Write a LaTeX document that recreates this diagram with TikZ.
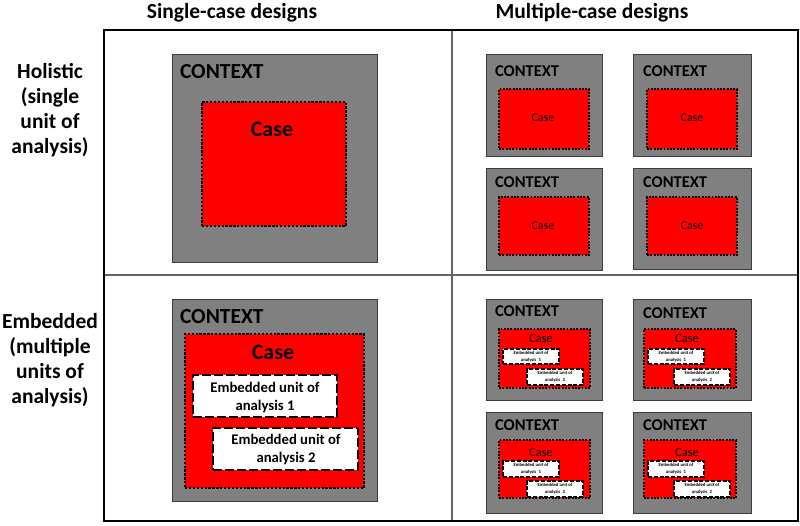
\documentclass[tikz,border=0pt]{standalone}
\usepackage{fontspec}
\setmainfont{Carlito}
\usetikzlibrary{fit}
\definecolor{ctxgray}{RGB}{128,128,128}
\definecolor{ctxedge}{RGB}{60,60,60}
\definecolor{divgray}{RGB}{100,100,100}
\tikzset{
  frame/.style={draw=black, line width=2pt},
  divider/.style={draw=divgray, line width=1.2pt},
  ctx/.style={draw=ctxedge, line width=1pt, fill=ctxgray, inner sep=0pt},
  caseL/.style={draw=black, line width=2.8pt, dash pattern=on 2.3pt off 1.6pt, fill=red, inner sep=0pt},
  caseS/.style={draw=black, line width=2.2pt, dash pattern=on 1.9pt off 1.4pt, fill=red, inner sep=0pt},
  embL/.style={draw=black, line width=2.8pt, dash pattern=on 9pt off 3pt, fill=white, inner sep=0pt},
  embS/.style={draw=black, line width=2.2pt, dash pattern=on 4pt off 1.8pt, fill=white, inner sep=0pt},
  txt/.style={inner sep=0pt, outer sep=0pt},
  header/.style={txt, font=\fontsize{21.5}{24}\selectfont\bfseries},
  rowlab/.style={txt, align=center, font=\fontsize{21.5}{25}\selectfont\bfseries},
  ctxtL/.style={txt, anchor=west, font=\fontsize{21.5}{24}\selectfont\bfseries},
  ctxtS/.style={txt, anchor=west, font=\fontsize{16.5}{20}\selectfont\bfseries},
  casetL/.style={txt, font=\fontsize{22}{24}\selectfont\bfseries},
  casetS/.style={txt, font=\fontsize{12}{14}\selectfont},
  casetM/.style={txt, font=\fontsize{12.5}{14}\selectfont},
  embtL/.style={txt, align=center, font=\fontsize{14.7}{18}\selectfont\bfseries},
  embtS/.style={txt, align=center, font=\fontsize{4.7}{7}\selectfont\bfseries},
}
\newcommand\rbox[6]{\node[#6, fit={(#2,#3) (#4,#5)}] (#1) {};}
\begin{document}
\begin{tikzpicture}[x=1pt, y=-1pt]
\useasboundingbox (0,0) rectangle (800,525);
% frame and grid
\coordinate (fTL) at (104,30);
\coordinate (fBR) at (798,521);
\coordinate (vT) at (452,30);
\coordinate (vB) at (452,521);
\coordinate (hL) at (104,275);
\coordinate (hR) at (798,275);
\draw[divider] (vT) -- (vB);
\draw[divider] (hL) -- (hR);
\draw[frame] (fTL) rectangle (fBR);
% headers
\node[header] (hsingle) at (232,13) {Single-case designs};
\node[header] (hmulti) at (592,13) {Multiple-case designs};
\node[rowlab] (rholistic) at (50,110) {Holistic\\(single\\unit of\\analysis)};
\node[rowlab] (rembedded) at (50,360) {Embedded\\(multiple\\units of\\analysis)};
% single holistic
\rbox{sh}{172}{54}{377}{262}{ctx}
\node[ctxtL] (sh-t) at (180,72) {CONTEXT};
\rbox{shc}{202}{102}{346}{226}{caseL}
\node[casetL] (shc-t) at (272,129) {Case};
% single embedded
\rbox{se}{172}{299}{377}{501}{ctx}
\node[ctxtL] (se-t) at (180,317) {CONTEXT};
\rbox{sec}{185}{334}{364}{488}{caseL}
\node[casetL] (sec-t) at (273,352) {Case};
\rbox{see1}{193}{375}{337}{417}{embL}
\node[embtL] (see1-t) at (265,397) {Embedded unit of\\analysis 1};
\rbox{see2}{213}{428}{358}{470}{embL}
\node[embtL] (see2-t) at (286,449) {Embedded unit of\\analysis 2};
% multiple holistic
\rbox{mh1}{486}{54}{602}{156}{ctx}
\node[ctxtS] (mh1-t) at (495,71) {CONTEXT};
\rbox{mh1c}{499}{89}{589}{149}{caseS}
\node[casetS] (mh1c-t) at (543,118) {Case};
\rbox{mh2}{633}{54}{751}{156}{ctx}
\node[ctxtS] (mh2-t) at (643,71) {CONTEXT};
\rbox{mh2c}{647}{89}{737}{149}{caseS}
\node[casetS] (mh2c-t) at (692,118) {Case};
\rbox{mh3}{486}{168}{602}{270}{ctx}
\node[ctxtS] (mh3-t) at (495,182) {CONTEXT};
\rbox{mh3c}{499}{197}{589}{255}{caseS}
\node[casetS] (mh3c-t) at (543,226) {Case};
\rbox{mh4}{633}{168}{751}{269}{ctx}
\node[ctxtS] (mh4-t) at (643,182) {CONTEXT};
\rbox{mh4c}{647}{197}{737}{255}{caseS}
\node[casetS] (mh4c-t) at (692,226) {Case};
% multiple embedded
\rbox{me1}{486}{299}{602}{400}{ctx}
\node[ctxtS] (me1-t) at (495,311) {CONTEXT};
\rbox{me1c}{499}{329}{590}{388}{caseS}
\node[casetM] (me1c-t) at (541,338) {Case};
\rbox{me1e1}{503}{349}{559}{364}{embS}
\node[embtS] (me1e1-t) at (531,356.5) {Embedded unit of\\analysis\enspace 1};
\rbox{me1e2}{527}{369}{583}{385}{embS}
\node[embtS] (me1e2-t) at (555,377) {Embedded unit of\\analysis\enspace 2};
\rbox{me2}{633}{299}{751}{400}{ctx}
\node[ctxtS] (me2-t) at (643,313) {CONTEXT};
\rbox{me2c}{644}{329}{736}{388}{caseS}
\node[casetM] (me2c-t) at (687,338) {Case};
\rbox{me2e1}{648}{349}{704}{364}{embS}
\node[embtS] (me2e1-t) at (676,356.5) {Embedded unit of\\analysis\enspace 1};
\rbox{me2e2}{674}{369}{730}{385}{embS}
\node[embtS] (me2e2-t) at (702,377) {Embedded unit of\\analysis\enspace 2};
\rbox{me3}{486}{412}{602}{513}{ctx}
\node[ctxtS] (me3-t) at (495,425) {CONTEXT};
\rbox{me3c}{499}{440}{590}{498}{caseS}
\node[casetM] (me3c-t) at (541,452) {Case};
\rbox{me3e1}{503}{461}{559}{477}{embS}
\node[embtS] (me3e1-t) at (531,469) {Embedded unit of\\analysis\enspace 1};
\rbox{me3e2}{527}{481}{583}{497}{embS}
\node[embtS] (me3e2-t) at (555,489) {Embedded unit of\\analysis\enspace 2};
\rbox{me4}{633}{412}{751}{513}{ctx}
\node[ctxtS] (me4-t) at (643,425) {CONTEXT};
\rbox{me4c}{644}{440}{736}{498}{caseS}
\node[casetM] (me4c-t) at (687,452) {Case};
\rbox{me4e1}{648}{461}{704}{477}{embS}
\node[embtS] (me4e1-t) at (676,469) {Embedded unit of\\analysis\enspace 1};
\rbox{me4e2}{674}{481}{730}{497}{embS}
\node[embtS] (me4e2-t) at (702,489) {Embedded unit of\\analysis\enspace 2};
\end{tikzpicture}
\end{document}
